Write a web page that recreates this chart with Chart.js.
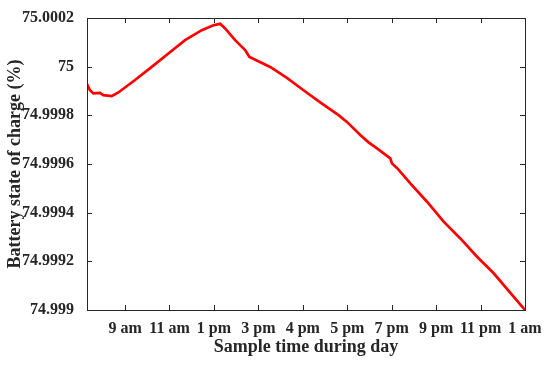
<!DOCTYPE html>
<html>
<head>
<meta charset="utf-8">
<script src="https://cdn.jsdelivr.net/npm/chart.js@4.4.0/dist/chart.umd.min.js"></script>
<style>
  html, body { margin: 0; padding: 0; background: #fff; }
  #wrap { width: 550px; height: 367px; }
</style>
</head>
<body>
<div id="wrap"><canvas id="soc"></canvas></div>
<script>
// hour labels on the x axis, one per tick (tick k sits at position k)
var tickLabels = ["9 am", "11 am", "1 pm", "3 pm", "4 pm", "5 pm", "7 pm", "9 pm", "11 pm", "1 am"];
var yTicks = [74.999, 74.9992, 74.9994, 74.9996, 74.9998, 75, 75.0002];

// sample position (in tick units) and battery state of charge (%)
var samplePos = [0.144, 0.212, 0.286, 0.437, 0.511, 0.700, 0.849, 1.225, 1.601, 1.975,
                 2.351, 2.727, 2.989, 3.140, 3.252, 3.477, 3.703, 3.799, 4.266, 4.642,
                 5.016, 5.392, 5.804, 5.993, 6.293, 6.480, 6.669, 6.968, 7.007, 7.119,
                 7.419, 7.795, 8.169, 8.545, 8.921, 9.295, 10.0];
var socValues = [74.999928, 74.999903, 74.999890, 74.999892, 74.999883, 74.999879, 74.999894, 74.999945, 74.999999, 75.000054,
                 75.000109, 75.000150, 75.000170, 75.000176, 75.000157, 75.000109, 75.000068, 75.000040, 74.999999, 74.999954,
                 74.999903, 74.999853, 74.999801, 74.999773, 74.999719, 74.999689, 74.999664, 74.999623, 74.999602, 74.999584,
                 74.999520, 74.999445, 74.999363, 74.999294, 74.999219, 74.999151, 74.999000];

var points = samplePos.map(function(x, i) { return { x: x, y: socValues[i] }; });

var axisColor = "#262626";
var tickFont = { family: "'Liberation Serif', 'Times New Roman', serif", size: 16, weight: "bold" };
var titleFont = { family: "'Liberation Serif', 'Times New Roman', serif", size: 18, weight: "bold" };

// matlab style box with inward ticks on all four sides
var boxPlugin = {
    id: "box",
    afterDraw: function(chart) {
        var ctx = chart.ctx, a = chart.chartArea;
        var xs = chart.scales.x, ys = chart.scales.y;
        var len = 5;
        ctx.save();
        ctx.strokeStyle = axisColor;
        ctx.lineWidth = 1;
        ctx.strokeRect(a.left + 0.5, a.top + 0.5, a.right - a.left, a.bottom - a.top);
        ctx.beginPath();
        xs.ticks.forEach(function(t) {
            var px = Math.round(xs.getPixelForValue(t.value)) + 0.5;
            ctx.moveTo(px, a.bottom); ctx.lineTo(px, a.bottom - len);
            ctx.moveTo(px, a.top); ctx.lineTo(px, a.top + len);
        });
        ys.ticks.forEach(function(t) {
            var py = Math.round(ys.getPixelForValue(t.value)) + 0.5;
            ctx.moveTo(a.left, py); ctx.lineTo(a.left + len, py);
            ctx.moveTo(a.right, py); ctx.lineTo(a.right - len, py);
        });
        ctx.stroke();
        ctx.restore();
    }
};

new Chart(document.getElementById("soc"), {
    type: "line",
    data: {
        datasets: [{
            data: points,
            borderColor: "#ff0000",
            borderWidth: 2.7,
            pointRadius: 0,
            tension: 0,
            fill: false
        }]
    },
    plugins: [boxPlugin],
    options: {
        responsive: true,
        maintainAspectRatio: false,
        animation: false,
        layout: { padding: { top: 18, right: 25, left: 0, bottom: 0 } },
        plugins: {
            legend: { display: false },
            tooltip: { enabled: false }
        },
        scales: {
            x: {
                type: "linear",
                min: 0.144,
                max: 10,
                grid: { display: false },
                border: { display: false },
                afterBuildTicks: function(scale) {
                    scale.ticks = tickLabels.map(function(_, i) { return { value: i + 1 }; });
                },
                afterFit: function(scale) { scale.height = 57; },
                ticks: {
                    autoSkip: false,
                    maxRotation: 0,
                    padding: 1,
                    color: axisColor,
                    font: tickFont,
                    callback: function(v, i) { return tickLabels[i]; }
                },
                title: {
                    display: true,
                    text: "Sample time during day",
                    color: axisColor,
                    font: titleFont,
                    padding: { top: 0, bottom: 9 }
                }
            },
            y: {
                min: 74.999,
                max: 75.0002,
                grid: { display: false },
                border: { display: false },
                afterBuildTicks: function(scale) {
                    scale.ticks = yTicks.map(function(v) { return { value: v }; });
                },
                afterFit: function(scale) { scale.width = 87; },
                ticks: {
                    padding: 5,
                    color: axisColor,
                    font: tickFont,
                    callback: function(v, i) { return String(yTicks[i]); }
                },
                title: {
                    display: true,
                    text: "Battery state of charge (%)",
                    color: axisColor,
                    font: titleFont,
                    padding: { top: 5, bottom: 0 }
                }
            }
        }
    }
});
</script>
</body>
</html>
